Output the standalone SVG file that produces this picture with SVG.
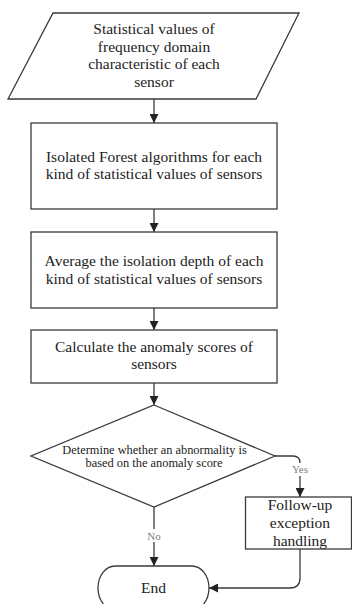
<svg xmlns="http://www.w3.org/2000/svg" width="352" height="604" viewBox="0 0 352 604">
  <style>
    .shape { fill: #ffffff; stroke: #3a3a3a; stroke-width: 1.3; }
    .conn { fill: none; stroke: #3a3a3a; stroke-width: 1.3; }
    .t { font-family: "Liberation Serif", "Times New Roman", serif; font-size: 15.5px; fill: #222222; text-anchor: middle; }
    .ts { font-family: "Liberation Serif", "Times New Roman", serif; font-size: 12.4px; fill: #222222; text-anchor: middle; }
    .lbl { font-family: "Liberation Serif", "Times New Roman", serif; font-size: 11px; fill: #808080; text-anchor: middle; }
  </style>
  <defs>
    <marker id="arrow" markerUnits="userSpaceOnUse" markerWidth="10" markerHeight="9" refX="9" refY="4.5" orient="auto">
      <path d="M0,0 L9,4.5 L0,9 z" fill="#222222"/>
    </marker>
  </defs>
  <rect x="0" y="0" width="352" height="604" fill="#ffffff"/>

  <g id="connectors">
    <path class="conn" d="M154,99 V123" marker-end="url(#arrow)"/>
    <path class="conn" d="M154,209 V232" marker-end="url(#arrow)"/>
    <path class="conn" d="M154,308 V330" marker-end="url(#arrow)"/>
    <path class="conn" d="M154,383 V405" marker-end="url(#arrow)"/>
    <path class="conn" d="M154,507 V566" marker-end="url(#arrow)"/>
    <path class="conn" d="M275,456 H293 Q300,456 300,463 V497" marker-end="url(#arrow)"/>
    <path class="conn" d="M300,549 V578 Q300,588 290,588 H209" marker-end="url(#arrow)"/>
    <g id="label-no">
      <rect x="146" y="529" width="16" height="13" fill="#ffffff"/>
      <text class="lbl" x="154" y="539.5">No</text>
    </g>
    <g id="label-yes">
      <rect x="291" y="463" width="18" height="13" fill="#ffffff"/>
      <text class="lbl" x="300" y="473">Yes</text>
    </g>
  </g>

  <g id="input">
    <polygon class="shape" points="53,13 299,13 256,99 8,99"/>
    <text class="t" x="154" y="34">Statistical values of</text>
    <text class="t" x="154" y="51.5">frequency domain</text>
    <text class="t" x="154" y="69">characteristic of each</text>
    <text class="t" x="154" y="86.5">sensor</text>
  </g>

  <g id="isolated-forest">
    <rect class="shape" x="31" y="123" width="246" height="86"/>
    <text class="t" x="154" y="161.5">Isolated Forest algorithms for each</text>
    <text class="t" x="154" y="179">kind of statistical values of sensors</text>
  </g>

  <g id="average-depth">
    <rect class="shape" x="31" y="232" width="246" height="76"/>
    <text class="t" x="154" y="266">Average the isolation depth of each</text>
    <text class="t" x="154" y="283.5">kind of statistical values of sensors</text>
  </g>

  <g id="anomaly-scores">
    <rect class="shape" x="31" y="330" width="246" height="53"/>
    <text class="t" x="154" y="351.5">Calculate the anomaly scores of</text>
    <text class="t" x="154" y="369">sensors</text>
  </g>

  <g id="decision">
    <polygon class="shape" points="154,405 275,456 154,507 31,456"/>
    <text class="ts" x="154.5" y="453.5">Determine whether an abnormality is</text>
    <text class="ts" x="154" y="466.5">based on the anomaly score</text>
  </g>

  <g id="follow-up">
    <rect class="shape" x="245.5" y="497" width="106" height="52"/>
    <text class="t" x="300" y="510">Follow-up</text>
    <text class="t" x="300" y="528">exception</text>
    <text class="t" x="300" y="545.5">handling</text>
  </g>

  <g id="end">
    <rect class="shape" x="98" y="566" width="111" height="44" rx="17" ry="22"/>
    <text class="t" x="153.5" y="592.5">End</text>
  </g>
</svg>
